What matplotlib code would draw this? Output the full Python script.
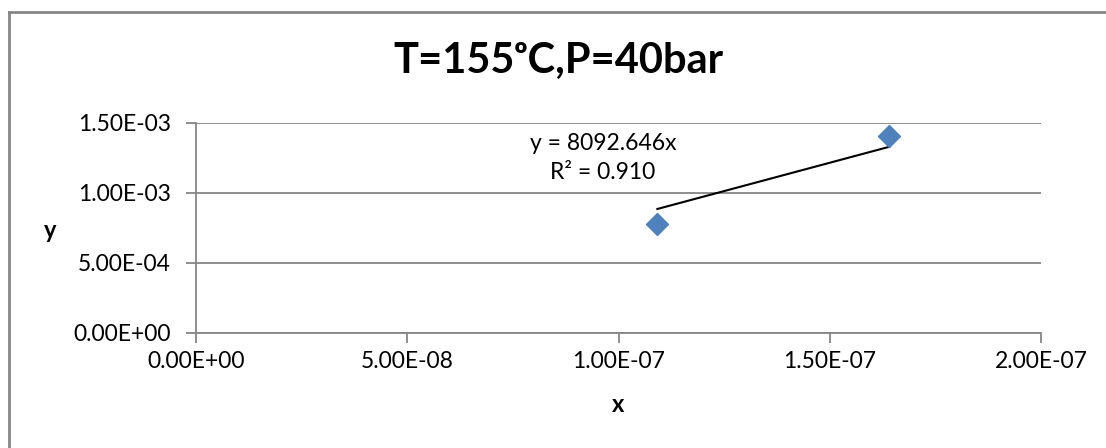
import numpy as np
import matplotlib
matplotlib.use("Agg")
import matplotlib.pyplot as plt
from matplotlib.lines import Line2D
from matplotlib.ticker import FuncFormatter

# measured points
x_vals = [1.092e-7, 1.641e-7]
y_vals = [7.76e-4, 1.405e-3]

# linear trend forced through the origin
slope = 8092.646
r_squared = 0.910

x_ticks = [0, 5e-8, 1e-7, 1.5e-7, 2e-7]
y_ticks = [0, 5e-4, 1e-3, 1.5e-3]

plt.rcParams['font.family'] = ['Lato', 'DejaVu Sans']

fig = plt.figure(figsize=(11.06, 4.48), dpi=100)
ax = fig.add_axes([196 / 1106, 1 - 332.7 / 448, 845 / 1106, 210 / 448])

grid_col = '#868686'
ax.set_xlim(0, 2e-7)
ax.set_ylim(0, 1.5e-3)
ax.set_xticks(x_ticks)
ax.set_yticks(y_ticks)
ax.yaxis.grid(True, color=grid_col, linewidth=1.3)
ax.set_axisbelow(True)

sci = FuncFormatter(lambda v, pos: f"{v:.2E}")
ax.xaxis.set_major_formatter(sci)
ax.yaxis.set_major_formatter(sci)

for side in ('top', 'right'):
    ax.spines[side].set_visible(False)
for side in ('left', 'bottom'):
    ax.spines[side].set_color(grid_col)
    ax.spines[side].set_linewidth(1.3)
ax.tick_params(axis='both', direction='out', length=7, width=1.3,
               color=grid_col, labelsize=16.5, labelcolor='black')
ax.tick_params(axis='y', pad=11)
ax.tick_params(axis='x', pad=6)

# trendline between the first and last point
fit_x = np.array([min(x_vals), max(x_vals)])
ax.plot(fit_x, slope * fit_x, color='black', linewidth=1.5, zorder=3)
ax.plot(x_vals, y_vals, linestyle='none', marker='D', markersize=11,
        color='#4F81BD', markeredgecolor='#4F81BD', zorder=4, clip_on=False)

ax.text(0.4817, 0.90, f"y = {slope}x", transform=ax.transAxes,
        ha='center', va='center', fontsize=16.5)
ax.text(0.4817, 0.765, f"R² = {r_squared:.3f}", transform=ax.transAxes,
        ha='center', va='center', fontsize=16.5)

fig.text(558 / 1106, 1 - 61 / 448, "T=155ᵒC,P=40bar", ha='center', va='center',
         fontsize=30, fontweight='bold')
fig.text(50 / 1106, 1 - 230 / 448, "y", ha='center', va='center',
         fontsize=17, fontweight='bold')
fig.text(618 / 1106, 1 - 405 / 448, "x", ha='center', va='center',
         fontsize=17, fontweight='bold')

# chart frame edges
fig.add_artist(Line2D([9 / 1106, 9 / 1106], [0, 1 - 12 / 448],
                      transform=fig.transFigure, color=grid_col, linewidth=2))
fig.add_artist(Line2D([9 / 1106, 1], [1 - 12 / 448, 1 - 12 / 448],
                      transform=fig.transFigure, color=grid_col, linewidth=2))

fig.savefig("out.png", dpi=100)
